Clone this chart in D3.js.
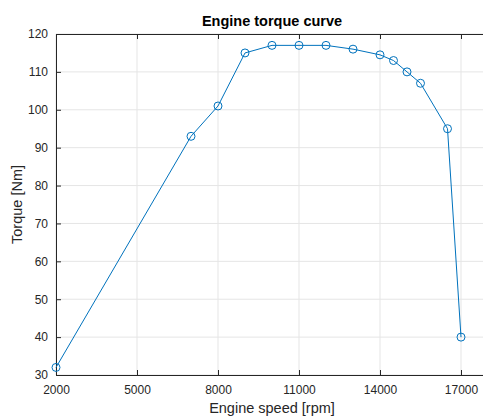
<!DOCTYPE html>
<html><head><meta charset="utf-8">
<script src="https://cdn.jsdelivr.net/npm/d3@7"></script>
<style>body{margin:0;background:#fff;overflow:hidden}svg{display:block}text{font-family:"Liberation Sans",Arial,sans-serif}</style>
</head><body>
<svg id="c" width="483" height="417"></svg>
<script>
const speed = [2000, 7000, 8000, 9000, 10000, 11000, 12000, 13000, 14000, 14500, 15000, 15500, 16500, 17000];
const torque = [32, 93, 101, 115, 117, 117, 117, 116, 114.5, 113, 110, 107, 95, 40];
const xTicks = [2000, 5000, 8000, 11000, 14000, 17000];
const yTicks = [30, 40, 50, 60, 70, 80, 90, 100, 110, 120];

const svg = d3.select("#c");
const L = 56, R = 488, T = 34, B = 375;
const x = d3.scaleLinear().domain([2000, 18000]).range([L, R]);
const y = d3.scaleLinear().domain([30, 120]).range([B, T]);
const axisCol = "#262626";

// grid
const g = svg.append("g");
g.selectAll(".gx").data(xTicks).join("line")
  .attr("x1", d => x(d)).attr("x2", d => x(d)).attr("y1", T).attr("y2", B)
  .attr("stroke", "#e5e5e5").attr("stroke-width", 1);
g.selectAll(".gy").data(yTicks).join("line")
  .attr("x1", L).attr("x2", R).attr("y1", d => y(d)).attr("y2", d => y(d))
  .attr("stroke", "#e5e5e5").attr("stroke-width", 1);

// axes
const fmt = d3.format("d");
const xa = svg.append("g").attr("transform", `translate(0,${B})`)
  .call(d3.axisBottom(x).tickValues(xTicks).tickFormat(fmt).tickSizeInner(-5).tickSizeOuter(0).tickPadding(8));
const xt = svg.append("g").attr("transform", `translate(0,${T})`)
  .call(d3.axisTop(x).tickValues(xTicks).tickSizeInner(-5).tickSizeOuter(0).tickFormat(""));
const ya = svg.append("g").attr("transform", `translate(${L},0)`)
  .call(d3.axisLeft(y).tickValues(yTicks).tickFormat(fmt).tickSizeInner(-5).tickSizeOuter(0).tickPadding(8));
[xa, xt, ya].forEach(a => {
  a.select(".domain").attr("stroke", axisCol).attr("stroke-width", 1);
  a.selectAll(".tick line").attr("stroke", axisCol);
  a.selectAll(".tick text").attr("fill", axisCol).style("font-size", "12px")
    .style("font-family", '"Liberation Sans", Arial, sans-serif');
});
xa.selectAll(".tick text").attr("dy", "0.9em");

// line
const line = d3.line().x((d, i) => x(speed[i])).y(d => y(d));
svg.append("path").datum(torque).attr("d", line)
  .attr("fill", "none").attr("stroke", "#0072BD").attr("stroke-width", 1);
svg.selectAll(".pt").data(torque).join("circle")
  .attr("cx", (d, i) => x(speed[i])).attr("cy", d => y(d)).attr("r", 4)
  .attr("fill", "none").attr("stroke", "#0072BD").attr("stroke-width", 1);

// labels
svg.append("text").attr("x", 272).attr("y", 26).attr("text-anchor", "middle")
  .style("font-size", "14.5px").style("font-weight", "bold").attr("fill", "#000").text("Engine torque curve");
svg.append("text").attr("x", 272).attr("y", 413).attr("text-anchor", "middle")
  .style("font-size", "14.5px").attr("fill", axisCol).text("Engine speed [rpm]");
svg.append("text").attr("transform", `translate(22,${(T + B) / 2}) rotate(-90)`).attr("text-anchor", "middle")
  .style("font-size", "14.5px").attr("fill", axisCol).text("Torque [Nm]");
</script>
</body></html>
